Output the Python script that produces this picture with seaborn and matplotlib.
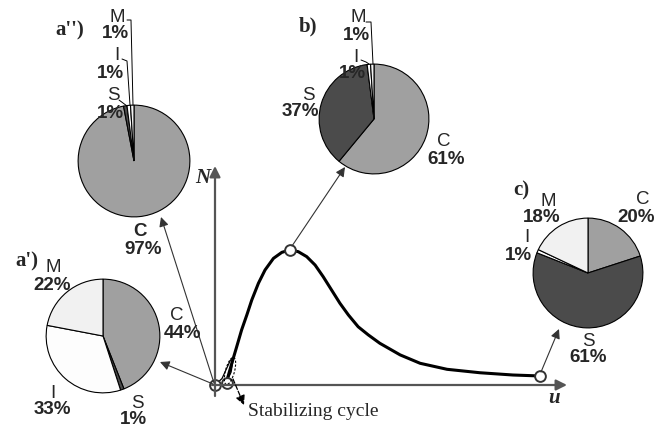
import matplotlib
matplotlib.use("Agg")
import matplotlib.pyplot as plt
import seaborn as sns
from matplotlib.patches import Ellipse

# ---------------------- #
# Data                   #
# ---------------------- #
categories = ["C", "S", "I", "M"]
share_a2 = [97, 1, 1, 1]     # a'')
share_b = [61, 37, 1, 1]     # b)
share_a1 = [44, 1, 33, 22]   # a')
share_c = [20, 61, 1, 18]    # c)
pie_colors = ["#a0a0a0", "#4b4b4b", "#fdfdfd", "#f1f1f1"]

# N(u) curve, both axes in % of the drawn axis length
u_vals = [3.3, 4.8, 6.2, 7.6, 9.1, 10.5, 12.4, 14.3, 16.7, 19.1, 21.4,
          23.8, 26.2, 28.6, 30.9, 33.3, 35.7, 38.1, 40.9, 43.8, 47.1,
          52.9, 58.6, 66.3, 75.7, 85.1, 92.9]
n_vals = [1.5, 10.1, 17.8, 25.6, 32.6, 39.5, 47.3, 53.5, 58.9, 61.7, 62.8,
          62.0, 59.7, 55.8, 50.4, 44.2, 38.0, 32.6, 27.1, 23.3, 19.4,
          14.0, 10.1, 7.3, 5.7, 4.65, 4.2]
# stabilizing cycle near the origin
loop_u = [0.0, 2.0, 4.4, 5.3, 4.6, 3.3]
loop_n = [0.0, 3.0, 11.5, 13.0, 6.0, 1.5]
marked_u = [0.0, 3.4, 21.4, 92.9]
marked_n = [0.0, 0.9, 62.8, 4.2]

W, H = 656, 429
sns.set_theme(style="white")
plt.rcParams["font.family"] = ["Liberation Sans", "DejaVu Sans"]

fig = plt.figure(figsize=(W / 100, H / 100), dpi=100)


def px_axes(x0, y0, w, h):
    # axes placed by pixel box (top-left origin)
    return fig.add_axes([x0 / W, 1 - (y0 + h) / H, w / W, h / H])


# ---------------------- #
# Curve                  #
# ---------------------- #
cax = px_axes(215, 170, 350, 215)
cax.set_xlim(0, 100)
cax.set_ylim(0, 100)
cax.axis("off")
sns.lineplot(x=loop_u, y=loop_n, ax=cax, color="black", lw=0.9, sort=False)
sns.lineplot(x=u_vals, y=n_vals, ax=cax, color="black", lw=2.2, sort=False)
sns.scatterplot(x=marked_u, y=marked_n, ax=cax, s=60, facecolor="white",
                edgecolor="#333333", linewidth=1.4, zorder=5)
for c in cax.collections:
    c.set_clip_on(False)
for l in cax.lines:
    l.set_clip_on(False)
    l.set_solid_joinstyle("round")

# ---------------------- #
# Pies                   #
# ---------------------- #
pies = [
    (share_a2, (134, 161, 57)),
    (share_b, (374, 119, 56)),
    (share_a1, (103, 336, 58)),
    (share_c, (588, 273, 56)),
]
for shares, (cx, cy, r) in pies:
    pax = px_axes(cx - r, cy - r, 2 * r, 2 * r)
    pax.pie(shares, colors=pie_colors, startangle=90, counterclock=False,
            radius=1, wedgeprops=dict(edgecolor="black", linewidth=0.8))
    pax.set_xlim(-1.02, 1.02)
    pax.set_ylim(-1.02, 1.02)
    pax.axis("off")

# ---------------------- #
# Overlay (px coords)    #
# ---------------------- #
ax = fig.add_axes([0, 0, 1, 1])
ax.set_xlim(0, W)
ax.set_ylim(H, 0)
ax.axis("off")
ax.patch.set_visible(False)

# coordinate axes
axis_arrow = dict(arrowstyle="-|>", color="#555555", lw=1.6, mutation_scale=16,
                  shrinkA=0, shrinkB=0)
ax.annotate("", xy=(215, 166), xytext=(215, 396), arrowprops=axis_arrow)
ax.annotate("", xy=(567, 385), xytext=(212, 385), arrowprops=axis_arrow)
ax.text(203, 178, "N", family="Liberation Serif", weight="bold", style="italic",
        fontsize=15, ha="center", va="center")
ax.text(554, 398, "u", family="Liberation Serif", weight="bold", style="italic",
        fontsize=15, ha="center", va="center")

# arrows from curve points to pies
thin = dict(arrowstyle="-|>", color="#333333", lw=0.8, mutation_scale=14,
            shrinkA=0, shrinkB=0)
ax.annotate("", xy=(161, 217), xytext=(214, 383), arrowprops=thin)
ax.annotate("", xy=(160, 362), xytext=(213, 384), arrowprops=thin)
ax.annotate("", xy=(345, 167), xytext=(292, 246), arrowprops=thin)
ax.annotate("", xy=(559, 329), xytext=(541, 372), arrowprops=thin)

# stabilizing cycle marker
ax.add_patch(Ellipse((230, 371), 9, 28, angle=15, fill=False, ls=(0, (2, 1.5)),
                     lw=0.8, color="black"))
ax.annotate("", xy=(244, 405), xytext=(233, 379),
            arrowprops=dict(arrowstyle="-|>", color="black", lw=0.9, ls="--",
                            mutation_scale=14, shrinkA=0, shrinkB=0))
ax.text(248, 412, "Stabilizing cycle", family="Liberation Serif", fontsize=14,
        ha="left", va="center")

# panel titles
serif_bold = dict(family="Liberation Serif", weight="bold", fontsize=15,
                  ha="center", va="center")
ax.text(70, 30, "a'')", **serif_bold)
ax.text(308, 26, "b)", **serif_bold)
ax.text(27, 261, "a')", **serif_bold)
ax.text(521, 190, "c)", **serif_bold)

# pie labels: (letter, letter xy, percent, percent xy)
labels = [
    ("M", (117, 17), "1%", (115, 33)),
    ("I", (117, 56), "1%", (110, 73)),
    ("S", (113, 96), "1%", (110, 113)),
    ("C", (140, 232), "97%", (143, 249)),
    ("M", (358, 17), "1%", (356, 35)),
    ("I", (356, 57), "1%", (352, 73)),
    ("S", (308, 96), "37%", (300, 112)),
    ("C", (444, 141), "61%", (446, 159)),
    ("M", (53, 268), "22%", (52, 285)),
    ("C", (177, 316), "44%", (183, 333)),
    ("I", (53, 394), "33%", (52, 410)),
    ("S", (137, 404), "1%", (133, 420)),
    ("M", (548, 201), "18%", (542, 218)),
    ("C", (643, 200), "20%", (636, 217)),
    ("I", (527, 238), "1%", (518, 255)),
    ("S", (588, 342), "61%", (588, 358)),
]
for i, (let, lxy, pct, pxy) in enumerate(labels):
    ax.text(*lxy, let, fontsize=13.5, ha="center", va="center",
            weight="bold" if i == 3 else "normal")
    ax.text(*pxy, pct, fontsize=13.5, weight="bold", ha="center", va="center")

# leader lines for the thin wedges
leaders = [
    ([127, 131, 133], [20, 20, 105]),
    ([122, 127, 130], [59, 61, 105]),
    ([119, 123, 127], [100, 103, 106]),
    ([366, 371, 373], [22, 22, 64]),
    ([361, 366, 369], [60, 62, 64]),
]
for xs, ys in leaders:
    ax.plot(xs, ys, color="black", lw=0.7)

fig.savefig("out.png", dpi=100)
